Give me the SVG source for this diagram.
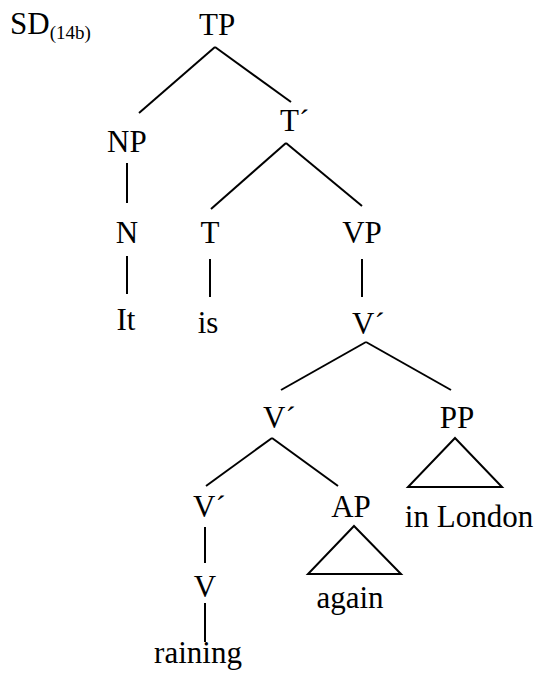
<svg xmlns="http://www.w3.org/2000/svg" width="540" height="681" viewBox="0 0 540 681" font-family="Liberation Serif" font-size="31">
<style>
text{fill:#000}
.m{text-anchor:middle}
.sub{font-size:19px}
line,polygon{stroke:#000;stroke-width:2;fill:none}
</style>
<rect width="540" height="681" fill="#fff"/>
<g id="label"><text x="10" y="34">SD<tspan class="sub" dy="5">(14b)</tspan></text></g>
<g id="TP"><text x="199" y="35">TP</text></g>
<g id="NP"><text x="107" y="152">NP</text></g>
<g id="Tbar"><text x="280" y="131">T´</text></g>
<g id="N"><text class="m" x="127" y="243">N</text></g>
<g id="T"><text class="m" x="210" y="243">T</text></g>
<g id="VP"><text class="m" x="362" y="243">VP</text></g>
<g id="It"><text class="m" x="126" y="330">It</text></g>
<g id="is"><text class="m" x="208" y="333">is</text></g>
<g id="Vbar1"><text x="352" y="334">V´</text></g>
<g id="Vbar2"><text x="263" y="428">V´</text></g>
<g id="PP"><text class="m" x="457" y="428">PP</text></g>
<g id="Vbar3"><text x="193" y="517">V´</text></g>
<g id="AP"><text class="m" x="351" y="517">AP</text></g>
<g id="inLondon"><text class="m" x="469" y="527">in London</text></g>
<g id="V"><text class="m" x="205" y="597">V</text></g>
<g id="again"><text class="m" x="350" y="608">again</text></g>
<g id="raining"><text class="m" x="198" y="663">raining</text></g>
<g id="connectors">
<line x1="215" y1="47" x2="139" y2="113"/>
<line x1="215" y1="47" x2="291" y2="102"/>
<line x1="127" y1="163" x2="127" y2="203"/>
<line x1="127" y1="256" x2="127" y2="294"/>
<line x1="286" y1="143" x2="211" y2="209"/>
<line x1="286" y1="143" x2="362" y2="206"/>
<line x1="210" y1="259" x2="210" y2="297"/>
<line x1="362" y1="259" x2="362" y2="297"/>
<line x1="366" y1="342" x2="281" y2="390"/>
<line x1="366" y1="342" x2="451" y2="390"/>
<line x1="272" y1="438" x2="206" y2="486"/>
<line x1="272" y1="438" x2="338" y2="486"/>
<polygon points="455,438 408,487 502,487"/>
<polygon points="354,526 308,574 401,574"/>
<line x1="205" y1="527" x2="205" y2="563"/>
<line x1="205" y1="603" x2="205" y2="642"/>
</g>
</svg>
